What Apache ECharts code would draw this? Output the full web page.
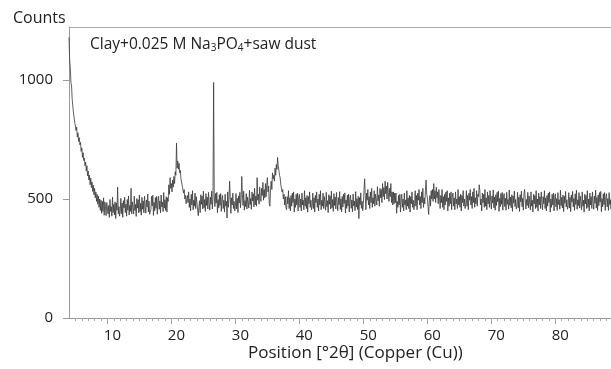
<!DOCTYPE html>
<html>
<head>
<meta charset="utf-8">
<script src="https://cdn.jsdelivr.net/npm/echarts@6/dist/echarts.min.js"></script>
<style>
html,body{margin:0;padding:0;background:#fff;}
#c{width:611px;height:369px;}
</style>
</head>
<body>
<div id="c"></div>
<script>
// 2-theta start and step of the scan (degrees)
var scanStart = 4.0;
var scanStep = 0.1;
var counts = [
1180,1085,1052,990,975,918,910,862,868,822,828,788,802,760,778,742,758,728,738,700,
715,675,695,662,672,640,655,618,640,598,618,580,600,560,588,548,572,532,558,518,
545,505,530,490,520,478,512,465,500,452,495,440,490,448,505,432,488,470,430,485,
493,438,473,423,498,448,468,428,508,443,478,433,488,418,483,453,550,438,468,428,
448,503,438,483,423,493,463,508,443,478,428,498,453,513,433,473,448,545,438,488,
487,437,512,452,477,427,502,462,497,442,517,447,482,432,507,457,492,442,512,467,
441,496,466,521,446,491,436,428,456,511,471,516,431,486,451,506,461,511,436,491,
512,457,492,442,517,467,487,447,527,462,497,452,510,445,505,490,560,520,590,545,
565,530,580,550,595,565,615,600,735,630,660,625,650,610,620,585,590,555,560,525,
540,500,515,480,500,515,485,530,465,500,450,520,475,535,455,495,470,525,460,510,
503,453,430,468,493,443,518,478,513,458,533,463,498,448,523,473,508,458,528,483,
453,508,478,533,458,503,990,513,468,523,483,528,443,498,463,518,473,523,448,503,
515,460,495,445,520,470,490,420,530,465,500,575,510,440,505,475,525,460,490,450,
468,523,458,503,443,513,483,528,463,498,595,518,473,533,453,493,468,523,458,508,
510,462,537,477,502,457,530,492,522,467,545,475,512,470,590,495,520,478,550,500,
490,545,515,570,495,540,505,565,510,560,590,530,555,480,470,545,575,540,610,585,
600,575,630,600,645,625,675,640,620,600,590,560,555,530,540,500,520,475,510,465,
455,510,480,535,460,505,450,515,470,525,485,530,445,500,465,520,475,525,450,505,
520,465,500,450,525,475,495,455,535,470,505,460,515,445,510,480,530,465,495,455,
470,525,460,505,445,515,485,530,465,500,450,520,475,535,455,495,470,525,460,510,
503,453,528,468,493,443,518,478,513,458,533,463,498,448,523,473,508,458,528,483,
451,506,476,531,456,501,446,511,466,521,481,526,441,496,461,516,471,521,446,501,
516,461,496,446,521,471,491,451,531,466,501,456,511,418,506,476,526,461,491,451,
480,535,585,515,455,525,495,540,475,510,460,530,485,545,465,505,480,535,470,520,
525,475,552,492,517,470,545,505,540,485,565,510,548,498,575,522,555,500,570,528,
490,545,510,565,485,530,475,530,480,525,485,525,440,490,465,515,475,520,445,500,
520,465,500,450,525,475,495,455,535,470,505,460,515,445,510,480,530,465,495,455,
480,535,470,515,455,525,495,540,475,510,460,530,485,545,465,505,480,535,580,520,
505,470,435,490,515,470,535,500,540,490,565,500,535,485,550,505,530,480,540,505,
460,515,485,540,465,510,455,520,475,530,490,535,450,505,470,525,480,530,455,510,
525,470,505,455,530,480,500,460,540,475,510,465,520,450,515,485,535,470,500,460,
480,535,470,515,455,525,495,540,475,510,460,530,485,545,465,505,480,535,470,520,
510,560,535,475,500,450,525,485,520,465,540,470,505,455,530,480,515,465,535,490,
458,513,483,538,463,508,453,518,473,528,488,533,448,503,468,523,478,528,453,508,
523,468,503,453,528,478,498,458,538,473,508,463,518,448,513,483,533,468,498,458,
473,528,463,508,448,518,488,533,468,503,453,523,540,538,458,498,473,528,463,513,
505,455,530,470,495,445,520,480,515,460,535,465,500,450,525,475,510,460,530,485,
455,510,480,535,460,505,450,515,470,525,485,530,445,500,465,520,475,525,450,505,
522,467,502,452,527,477,497,457,537,472,507,462,517,447,512,482,532,467,497,457,
472,527,462,507,447,517,487,532,467,502,452,522,477,537,457,497,472,527,462,512,
505,455,530,470,495,445,520,480,515,460,535,465,500,450,525,475,510,460,530,485,
457,512,482,537,462,507,452,517,472,527,487,532,447,502,467,522,477,527,452,507,
522,467,502,452,527,477,497,457,530
];
var xTickLabels = [10,20,30,40,50,60,70,80];
var yTickLabels = [0,500,1000];
var xMin = 4.0, xMax = 88.7, yMax = 1223;

var data = counts.map(function(c,i){ return [+(scanStart + i*scanStep).toFixed(1), c]; });
var minorTicks = [];
for (var t = 5; t <= 88; t++) minorTicks.push(t);

var FONT = '"Open Sans", "Noto Sans", sans-serif';
var chart = echarts.init(document.getElementById('c'), null, {renderer:'canvas'});
chart.setOption({
  animation:false,
  backgroundColor:'#fff',
  grid:{left:69, top:27, right:0, bottom:51, containLabel:false},
  xAxis:[
    {type:'value', min:xMin, max:xMax, position:'bottom',
     axisLine:{show:true, lineStyle:{color:'#999', width:1}},
     axisTick:{show:true, customValues:xTickLabels, length:6, lineStyle:{color:'#999'}},
     axisLabel:{customValues:xTickLabels, margin:10, padding:[0,0,0,10], fontFamily:FONT, fontSize:15, color:'#222'},
     splitLine:{show:false}},
    {type:'value', min:xMin, max:xMax, position:'bottom',
     axisLine:{show:false},
     axisTick:{show:true, customValues:minorTicks, length:3, lineStyle:{color:'#aaa'}},
     axisLabel:{show:false}, splitLine:{show:false}},
    {type:'value', min:xMin, max:xMax, position:'top',
     axisLine:{show:true, lineStyle:{color:'#aaa', width:1}},
     axisTick:{show:false}, axisLabel:{show:false}, splitLine:{show:false}}
  ],
  yAxis:{type:'value', min:0, max:yMax,
     axisLine:{show:true, lineStyle:{color:'#999', width:1}},
     axisTick:{show:true, customValues:yTickLabels, length:6, lineStyle:{color:'#999'}},
     axisLabel:{customValues:yTickLabels, margin:16, fontFamily:FONT, fontSize:15, color:'#222',
       formatter:function(v){ return String(v); }},
     splitLine:{show:false}},
  graphic:[
    {type:'text', left:13, top:10, style:{text:'Counts', font:'16px '+FONT, fill:'#222'}},
    {type:'text', left:90, top:37, style:{
      text:'Clay+0.025 M Na{s|3}PO{s|4}+saw dust',
      font:'15.5px '+FONT, fill:'#222',
      rich:{s:{fontSize:10, fontFamily:FONT, verticalAlign:'bottom', padding:[6,0,0,0], fill:'#222'}}
    }},
    {type:'text', left:248, top:345, style:{text:'Position [°2θ] (Copper (Cu))', font:'17px '+FONT, fill:'#222'}}
  ],
  series:[{type:'line', xAxisIndex:0, data:data, showSymbol:false, symbol:'none',
    lineStyle:{color:'#3a3a3a', width:0.9, opacity:0.9}, clip:true}]
});
</script>
</body>
</html>
